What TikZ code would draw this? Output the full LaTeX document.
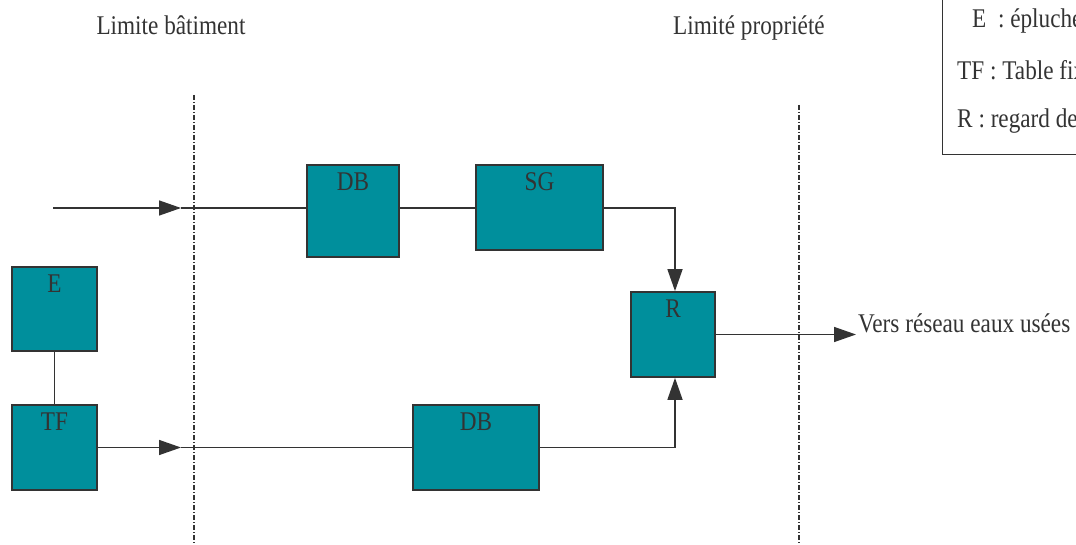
\documentclass[tikz,border=0pt]{standalone}
\usepackage{fontspec}
\setmainfont{Liberation Serif}[FakeStretch=0.86]
\usetikzlibrary{arrows.meta}
\definecolor{boxfill}{RGB}{0,143,156}
\definecolor{ink}{RGB}{51,51,51}
\tikzset{
  unit/.style={draw=ink, line width=1.7pt, fill=boxfill, inner sep=0pt},
  lbl/.style={text=ink, font=\fontsize{27}{30}\selectfont, inner sep=0pt},
  pipe/.style={draw=ink, line width=1.5pt},
  flow/.style={pipe, -{Triangle[length=22pt, width=15pt]}},
  limit/.style={draw=ink, line width=1.1pt, dash pattern=on 5pt off 2pt on 1pt off 2pt},
  txt/.style={text=ink, font=\fontsize{27}{30}\selectfont, inner sep=0pt},
}
\begin{document}
\begin{tikzpicture}[x=1pt, y=-1pt]
\useasboundingbox (0,0) rectangle (1076,545);
\begin{scope}
\clip (0,0) rectangle (1076,545);

% property and building limits
\coordinate (lb1) at (194,95);
\coordinate (lb2) at (194,545);
\coordinate (lp1) at (799,105);
\coordinate (lp2) at (799,545);
\draw[limit] (lb1) -- (lb2);
\draw[limit] (lp1) -- (lp2);
\node[txt, anchor=base] (tlb) at (171,35) {Limite bâtiment};
\node[txt, anchor=base] (tlp) at (749,35) {Limité propriété};

% equipment
\node[unit, minimum width=92pt, minimum height=92pt] (dbt) at (353,211) {};
\node[unit, minimum width=127pt, minimum height=85pt] (sg) at (539.5,207.5) {};
\node[unit, minimum width=85pt, minimum height=84pt] (e) at (54.5,309) {};
\node[unit, minimum width=85pt, minimum height=85pt] (tf) at (54.5,447.5) {};
\node[unit, minimum width=126pt, minimum height=85pt] (dbb) at (476,447.5) {};
\node[unit, minimum width=84pt, minimum height=85pt] (r) at (673,334.5) {};

\node[lbl, anchor=base] at ([yshift=-26pt]dbt.north) {DB};
\node[lbl, anchor=base] at ([yshift=-26pt]sg.north) {SG};
\node[lbl, anchor=base] at ([yshift=-26pt]e.north) {E};
\node[lbl, anchor=base] at ([yshift=-26pt]tf.north) {TF};
\node[lbl, anchor=base] at ([yshift=-26pt]dbb.north) {DB};
\node[lbl, anchor=base] at ([yshift=-26pt]r.north) {R};

% upper branch
\coordinate (in1) at (53,208);
\coordinate (a1) at (181,208);
\draw[flow] (in1) -- (a1);
\draw[pipe] (a1) -- (dbt.west |- a1);
\draw[pipe] (dbt.east |- a1) -- (sg.west |- a1);
\coordinate (k1) at (675,208);
\draw[flow] (sg.east |- k1) -- (k1) -- (k1 |- r.north);

% lower branch
\draw[pipe] (e.south) -- (tf.north);
\coordinate (a2) at (181,447.5);
\draw[flow] (tf.east) -- (a2);
\draw[pipe] (a2) -- (dbb.west);
\coordinate (k2) at (675,447.5);
\draw[flow] (dbb.east) -- (k2) -- (k2 |- r.south);

% outlet
\coordinate (out) at (856,334.5);
\draw[flow] (r.east) -- (out);
\node[txt, anchor=base west] (tout) at (858,332) {Vers réseau eaux usées};

% legend
\node[draw=ink, line width=1.3pt, fill=white, minimum width=200pt, minimum height=165pt, anchor=south west] (leg) at (942,155) {};
\node[txt, anchor=base west] (l1) at (972,28) {E\ \ : éplucheuse};
\node[txt, anchor=base west] (l2) at (957,80) {TF : Table fixe};
\node[txt, anchor=base west] (l3) at (957,128) {R : regard de visite};
\end{scope}
\end{tikzpicture}
\end{document}
